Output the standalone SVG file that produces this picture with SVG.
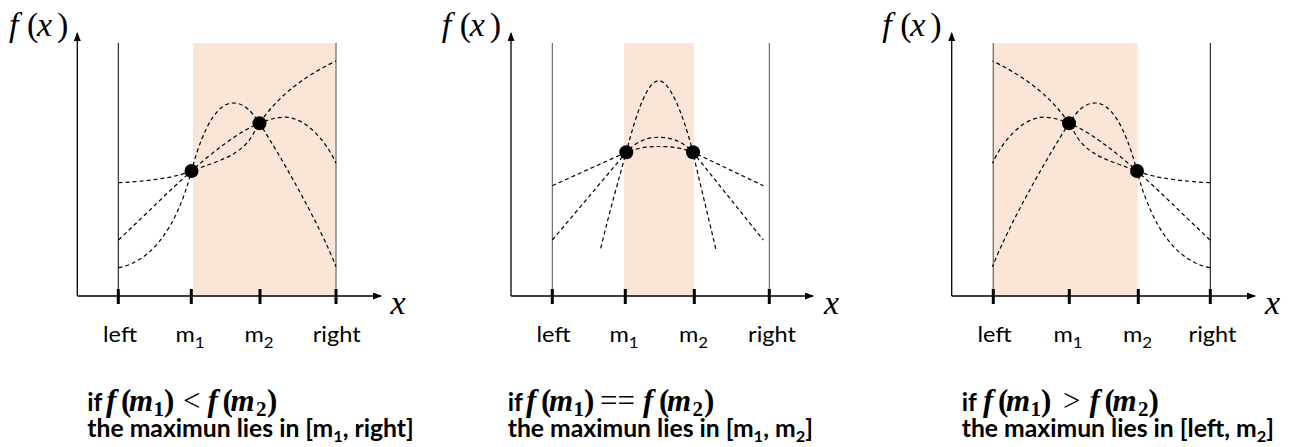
<svg xmlns="http://www.w3.org/2000/svg" width="1289" height="447" viewBox="0 0 1289 447">
<style>
.axis{stroke:#000;stroke-width:1.3;fill:none}
.bound{stroke:#000;stroke-width:1}
.boundg{stroke:#7f7f7f;stroke-width:1.4}
.boundm{stroke:#505050;stroke-width:1}
.tick{stroke:#000;stroke-width:3;fill:none}
.curve{fill:none;stroke:#000;stroke-width:1.2;stroke-dasharray:4 3}
.shade{fill:#FBE5D6}
.dot{fill:#000}
.lbl{font-family:Lato,"Open Sans",sans-serif;font-size:21px;fill:#000;text-anchor:middle}
.cap{font-family:Lato,"Open Sans",sans-serif;font-weight:bold;font-size:24px;fill:#000}
.math{font-family:"Liberation Serif",serif;font-size:34px;fill:#000}
.mb{font-family:"Liberation Serif",serif;font-weight:bold;font-size:31px;fill:#000}
.it{font-style:italic}
.sub{font-size:21px;font-style:normal}
.op{font-weight:normal}
</style>
<defs>
<marker id="arr" markerUnits="userSpaceOnUse" markerWidth="9" markerHeight="7" refX="8" refY="3.5" orient="auto">
<path d="M0,0 L9,3.5 L0,7 z" fill="#000"/>
</marker>
<g id="curves1">
<path class="curve" d="M118.5,267.7 C150,262 176,230 191.5,171 C205,120 220,103 233,103 C245,103 252,112 259.5,123.3 C280,155 320,225 336,266.7"/>
<path class="curve" d="M118.5,240 C145,215 170,190 191.5,171 C215,150 240,131 259.5,123.3 C272,118 281,116.5 289,117.5 C310,121 328,145 336,163.3"/>
<path class="curve" d="M118.5,182.7 C155,181 180,176 191.5,171 C215,162 232,158 245,145 C252,138 255,130 259.5,123.3 C275,100 300,78 336,61"/>
</g>
</defs>

<g id="panel1">
<rect class="shade" x="193" y="43" width="143" height="253"/>
<line class="bound" x1="118.3" y1="43" x2="118.3" y2="296"/>
<line class="boundg" x1="336" y1="43" x2="336" y2="296"/>
<line class="axis" x1="77.3" y1="296" x2="77.3" y2="33" marker-end="url(#arr)"/>
<line class="axis" x1="77.3" y1="296" x2="381" y2="296" marker-end="url(#arr)"/>
<path class="tick" d="M118.3,289V304M191.3,289V304M260,289V304M336,289V304"/>
<use href="#curves1"/>
<circle class="dot" cx="191.5" cy="171" r="7"/>
<circle class="dot" cx="259.5" cy="123.3" r="7"/>
<text class="math" y="36"><tspan x="9" class="it">f</tspan><tspan x="27">(</tspan><tspan x="37" class="it">x</tspan><tspan x="57">)</tspan></text>
<text class="math it" x="390.5" y="314">x</text>
<g transform="translate(120,341.5) scale(1.12,1)"><text class="lbl">left</text></g>
<g transform="translate(190,341.5) scale(1.12,1)"><text class="lbl">m<tspan font-size="15" dy="6">1</tspan></text></g>
<g transform="translate(259,341.5) scale(1.12,1)"><text class="lbl">m<tspan font-size="15" dy="6">2</tspan></text></g>
<g transform="translate(336.7,341.5) scale(1.12,1)"><text class="lbl">right</text></g>
</g>

<g id="panel2">
<rect class="shade" x="624" y="43" width="70" height="253"/>
<line class="boundm" x1="552.3" y1="43" x2="552.3" y2="296"/>
<line class="boundm" x1="769.3" y1="43" x2="769.3" y2="296"/>
<line class="axis" x1="511" y1="296" x2="511" y2="33" marker-end="url(#arr)"/>
<line class="axis" x1="511" y1="296" x2="813" y2="296" marker-end="url(#arr)"/>
<path class="tick" d="M552.3,289V304M625.3,289V304M694.3,289V304M769.3,289V304"/>
<path class="curve" d="M600.7,248.3 C610,210 619,178 626.3,152.3 C637,110 648,80.7 658.7,80.7 C669,80.7 682,110 693,152.3 C699,180 708,215 716,250"/>
<path class="curve" d="M552.3,240 L626.3,152.3 C638,140 648,137.3 658.7,137.3 C670,137.3 681,140 693,152.3 L763.3,240"/>
<path class="curve" d="M552.3,185.7 L626.3,152.3 C640,147 650,146.5 659,146.5 C668,146.5 680,147 693,152.3 L763.3,185.7"/>
<circle class="dot" cx="626.3" cy="152.3" r="7"/>
<circle class="dot" cx="693" cy="152.3" r="7"/>
<text class="math" y="36"><tspan x="441.7" class="it">f</tspan><tspan x="459.7">(</tspan><tspan x="469.7" class="it">x</tspan><tspan x="489.7">)</tspan></text>
<text class="math it" x="824" y="314">x</text>
<g transform="translate(553.5,341.5) scale(1.12,1)"><text class="lbl">left</text></g>
<g transform="translate(624,341.5) scale(1.12,1)"><text class="lbl">m<tspan font-size="15" dy="6">1</tspan></text></g>
<g transform="translate(693.5,341.5) scale(1.12,1)"><text class="lbl">m<tspan font-size="15" dy="6">2</tspan></text></g>
<g transform="translate(772,341.5) scale(1.12,1)"><text class="lbl">right</text></g>
</g>

<g id="panel3">
<rect class="shade" x="993" y="43" width="144.7" height="253"/>
<line class="boundg" x1="993.3" y1="43" x2="993.3" y2="296" style="stroke:#857770"/>
<line class="bound" x1="1210.3" y1="43" x2="1210.3" y2="296"/>
<line class="axis" x1="951.7" y1="296" x2="951.7" y2="33" marker-end="url(#arr)"/>
<line class="axis" x1="951.7" y1="296" x2="1255" y2="296" marker-end="url(#arr)"/>
<path class="tick" d="M993.3,289V304M1069.3,289V304M1138.3,289V304M1210.3,289V304"/>
<use href="#curves1" transform="translate(1328.5,0) scale(-1,1)"/>
<circle class="dot" cx="1069" cy="123.3" r="7"/>
<circle class="dot" cx="1137" cy="171" r="7"/>
<text class="math" y="36"><tspan x="882.3" class="it">f</tspan><tspan x="900.3">(</tspan><tspan x="910.3" class="it">x</tspan><tspan x="930.3">)</tspan></text>
<text class="math it" x="1265" y="314">x</text>
<g transform="translate(994.5,341.5) scale(1.12,1)"><text class="lbl">left</text></g>
<g transform="translate(1068,341.5) scale(1.12,1)"><text class="lbl">m<tspan font-size="15" dy="6">1</tspan></text></g>
<g transform="translate(1137.5,341.5) scale(1.12,1)"><text class="lbl">m<tspan font-size="15" dy="6">2</tspan></text></g>
<g transform="translate(1212.5,341.5) scale(1.12,1)"><text class="lbl">right</text></g>
</g>

<g id="captions">
<g transform="translate(87.3,411) scale(1.03,1)"><text class="cap">if</text></g>
<text class="mb" y="411"><tspan x="106" class="it">f</tspan><tspan x="121">(</tspan><tspan x="129" class="it">m</tspan><tspan x="153.5" class="sub" dy="5">1</tspan><tspan x="164" dy="-5">)</tspan><tspan x="183" class="op">&lt;</tspan><tspan x="207.5" class="it">f</tspan><tspan x="222.5">(</tspan><tspan x="230.5" class="it">m</tspan><tspan x="256" class="sub" dy="5">2</tspan><tspan x="267" dy="-5">)</tspan></text>
<g transform="translate(87.3,436.5) scale(1.03,1)"><text class="cap">the maximun lies in [m<tspan font-size="16" dy="5">1</tspan><tspan dy="-5">, right]</tspan></text></g>

<g transform="translate(507.7,411) scale(1.03,1)"><text class="cap">if</text></g>
<text class="mb" y="411"><tspan x="526" class="it">f</tspan><tspan x="541">(</tspan><tspan x="549" class="it">m</tspan><tspan x="573.5" class="sub" dy="5">1</tspan><tspan x="584" dy="-5">)</tspan><tspan x="600" class="op">==</tspan><tspan x="643" class="it">f</tspan><tspan x="659">(</tspan><tspan x="667" class="it">m</tspan><tspan x="692.5" class="sub" dy="5">2</tspan><tspan x="704" dy="-5">)</tspan></text>
<g transform="translate(507.7,436.5) scale(1.03,1)"><text class="cap">the maximun lies in [m<tspan font-size="16" dy="5">1</tspan><tspan dy="-5">, m</tspan><tspan font-size="16" dy="5">2</tspan><tspan dy="-5">]</tspan></text></g>

<g transform="translate(961.7,411) scale(1.03,1)"><text class="cap">if</text></g>
<text class="mb" y="411"><tspan x="983" class="it">f</tspan><tspan x="998">(</tspan><tspan x="1006" class="it">m</tspan><tspan x="1030.5" class="sub" dy="5">1</tspan><tspan x="1041" dy="-5">)</tspan><tspan x="1063" class="op">&gt;</tspan><tspan x="1089.5" class="it">f</tspan><tspan x="1104.5">(</tspan><tspan x="1112.5" class="it">m</tspan><tspan x="1138" class="sub" dy="5">2</tspan><tspan x="1148.5" dy="-5">)</tspan></text>
<g transform="translate(961.7,436.5) scale(1.03,1)"><text class="cap">the maximun lies in [left, m<tspan font-size="16" dy="5">2</tspan><tspan dy="-5">]</tspan></text></g>
</g>
</svg>
